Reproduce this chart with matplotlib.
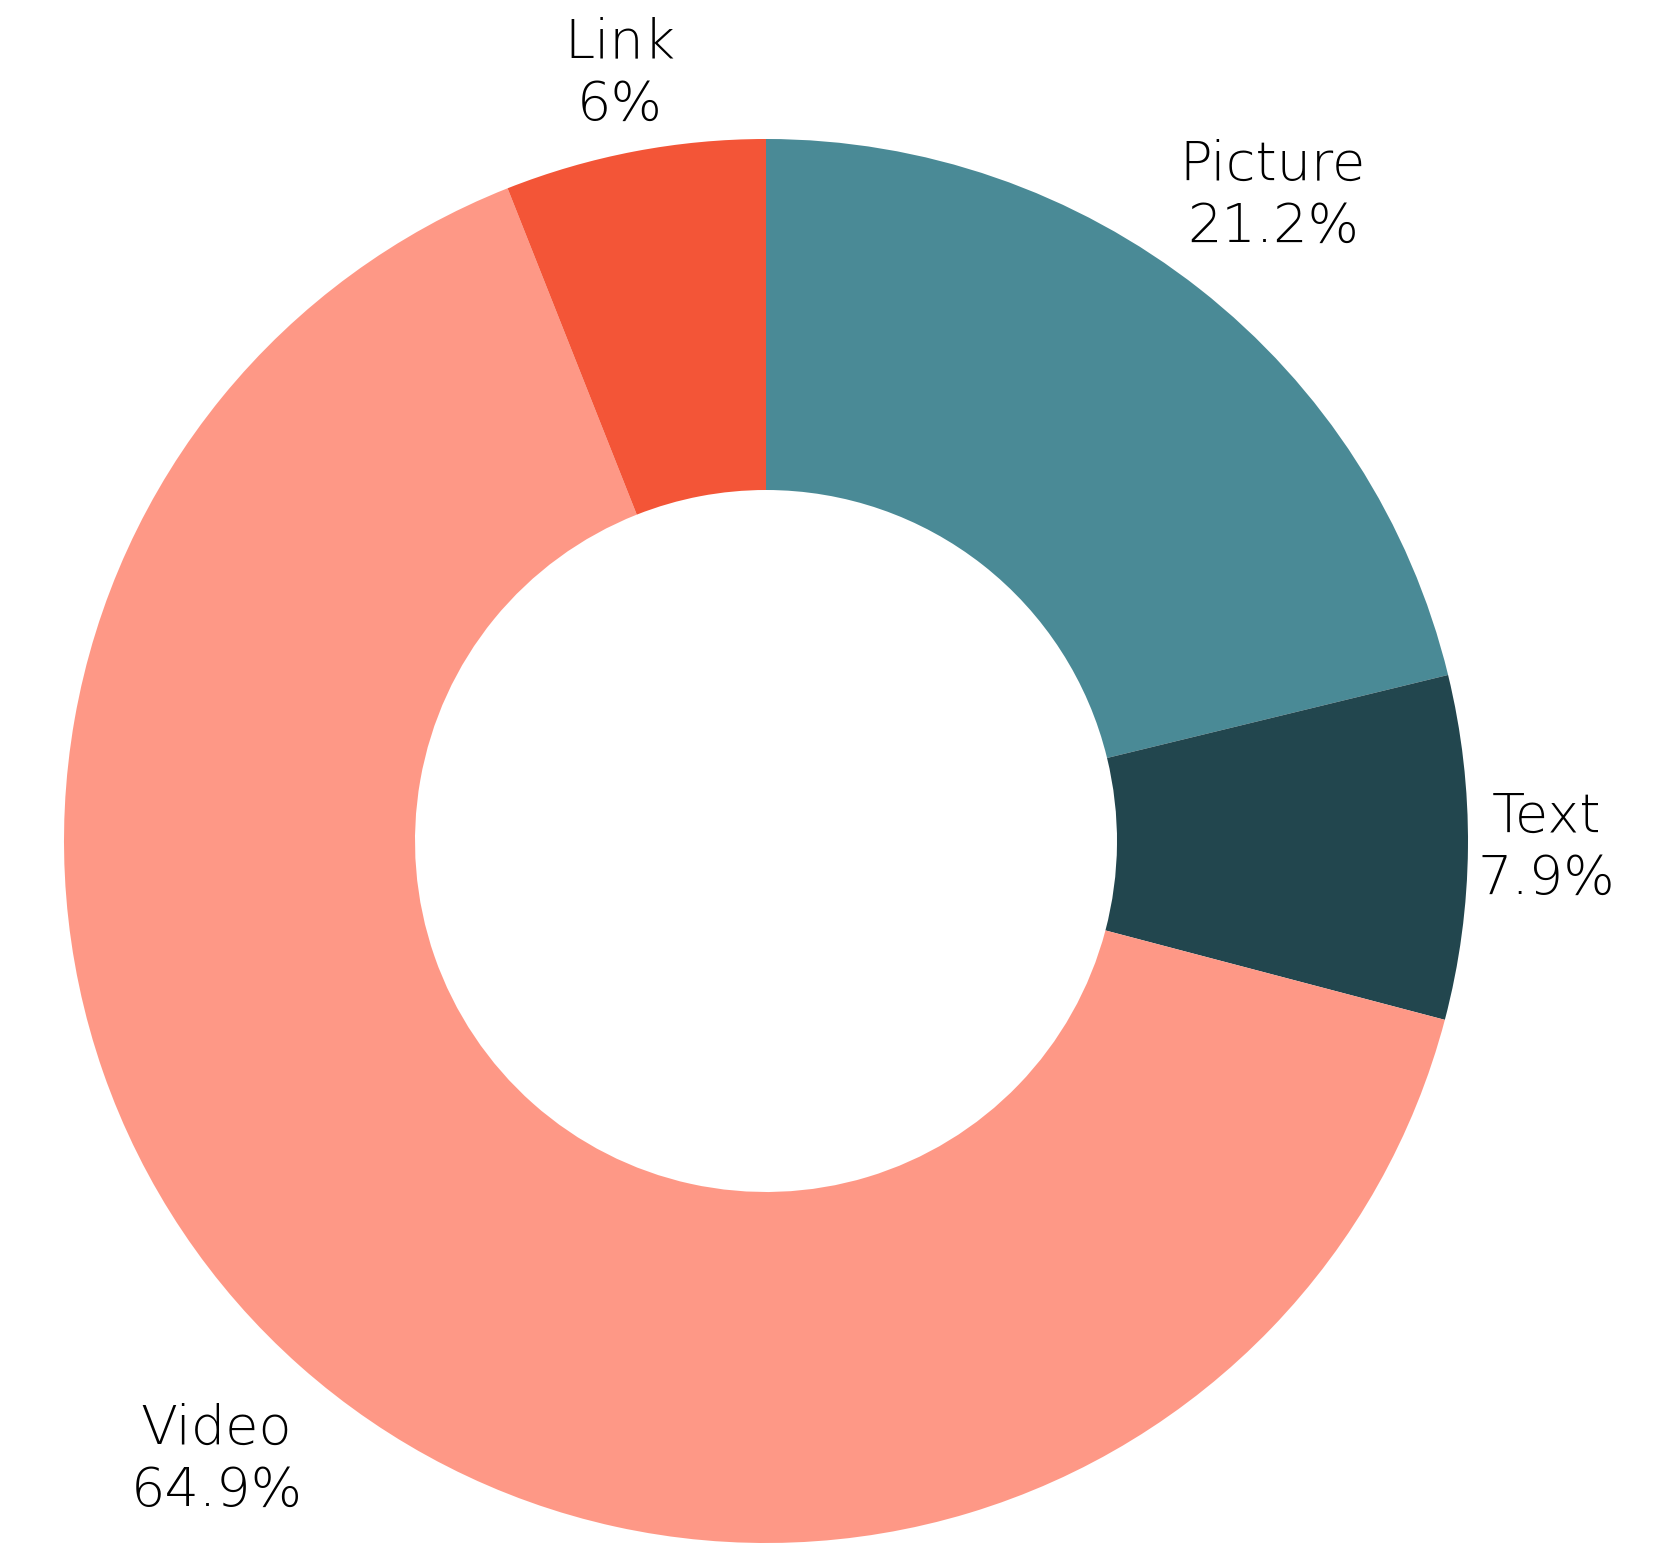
import matplotlib
matplotlib.use("Agg")
import matplotlib.pyplot as plt
import numpy as np

# Data
CATEGORIES = ["Picture", "Text", "Video", "Link"]
SHARES = [21.2, 7.9, 64.9, 6.0]
COLORS = ["#4A8A96", "#22464E", "#FE9886", "#F35537"]

plt.rcParams["font.family"] = ["DejaVu Sans"]

fig = plt.figure(figsize=(16.8, 15.6), dpi=100)
ax = fig.add_axes([0, 0, 1, 1])

wedges, _ = ax.pie(
    SHARES,
    colors=COLORS,
    startangle=90,
    counterclock=False,
    radius=1.0,
    wedgeprops=dict(width=0.5, edgecolor="none"),
)

for wedge, cat, share in zip(wedges, CATEGORIES, SHARES):
    ang = np.deg2rad((wedge.theta1 + wedge.theta2) / 2)
    # push diagonal labels a little further out (text box corner)
    r = 1.11 + 0.07 * abs(np.sin(2 * ang)) - 0.025 * max(np.sin(ang), 0) ** 4
    label = f"{cat}\n{share:g}%"
    ax.text(r * np.cos(ang), r * np.sin(ang), label, ha="center", va="center",
            fontsize=39, fontweight="light", linespacing=1.22, color="black")

# place pie center at ~ (766, 841) px, radius ~702 px
scale = 702.0
cx, cy = 766.0, 1560.0 - 841.0
ax.set_xlim(-cx / scale, (1680 - cx) / scale)
ax.set_ylim(-cy / scale, (1560 - cy) / scale)
ax.set_aspect("auto")
ax.axis("off")

fig.savefig("out.png", dpi=100)
plt.close(fig)
